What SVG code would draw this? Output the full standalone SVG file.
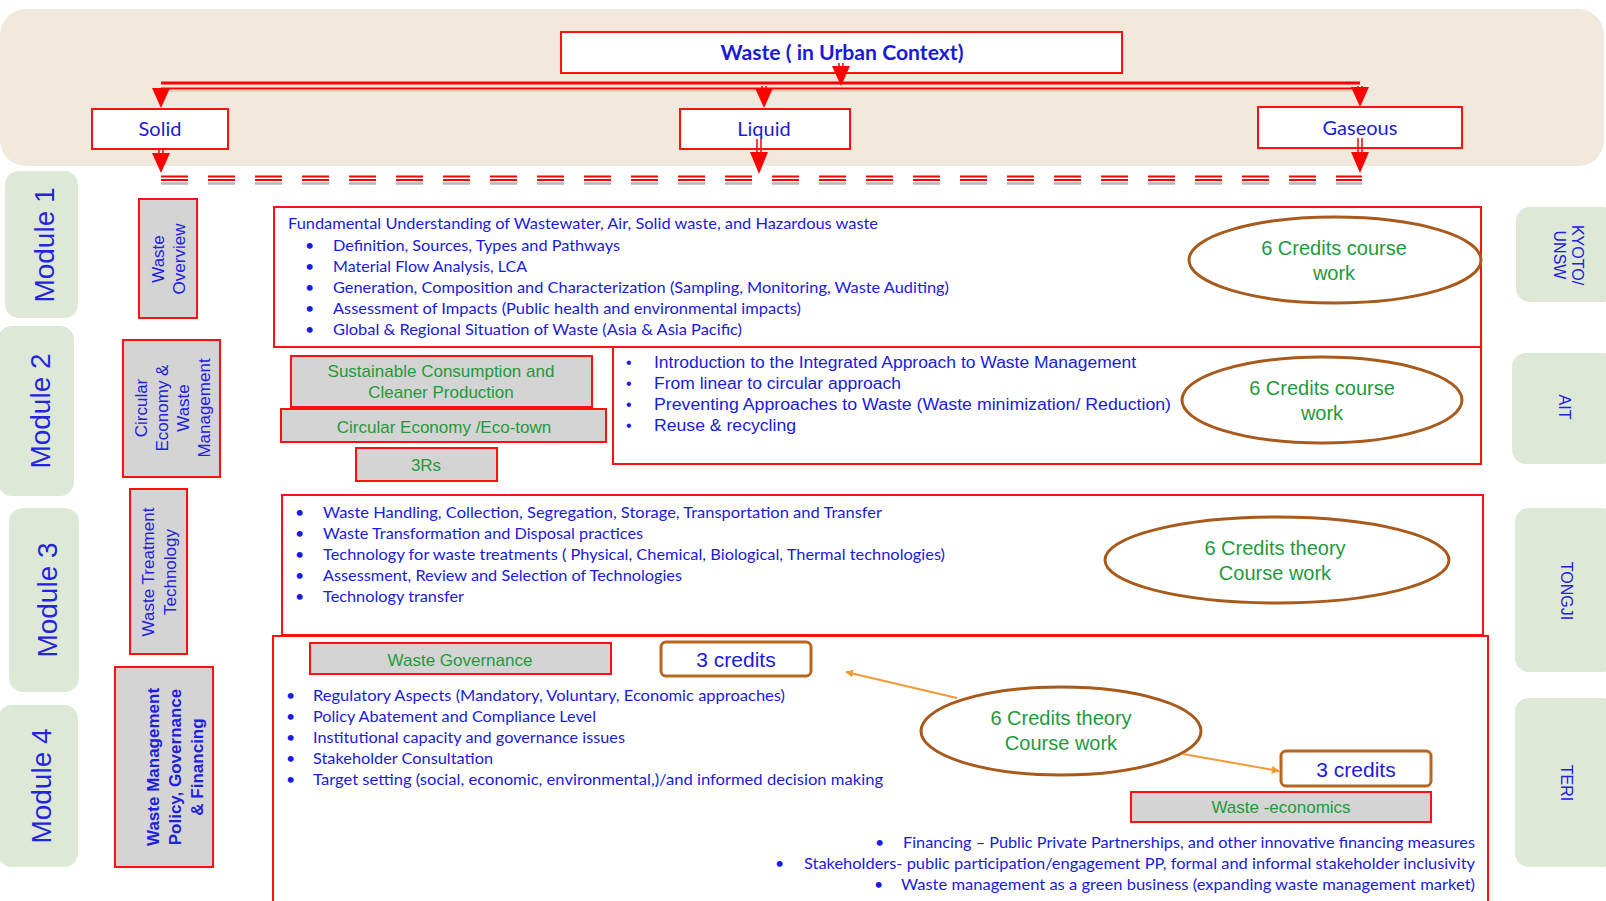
<svg xmlns="http://www.w3.org/2000/svg" width="1606" height="901" viewBox="0 0 1606 901">
<defs>
<style>
.band{fill:#f2e9dd}
.tab{fill:#dde9d6}
.rbox{fill:#ffffff;stroke:#ff1010;stroke-width:2}
.gbox{fill:#d4d4d4;stroke:#ff1010;stroke-width:2}
.ell{fill:#ffffff;stroke:#a85a1c;stroke-width:3}
.cbox{fill:#ffffff;stroke:#b8651e;stroke-width:3}
.red{stroke:#ff0000;fill:none}
.head{fill:#ff0000}
.cal{font-family:Lato,"Open Sans","Liberation Sans",sans-serif;fill:#1a1ae0;font-size:16px}
.ari{font-family:"Liberation Sans",Arial,sans-serif;fill:#1a1ae0}
.grn{font-family:"Liberation Sans",Arial,sans-serif;fill:#1e9a3c;text-anchor:middle}
.mod{font-family:"Liberation Sans",Arial,sans-serif;fill:#2424e0;font-size:28px;text-anchor:middle}
.lab{font-family:"Liberation Sans",Arial,sans-serif;fill:#2020e0;font-size:17px;text-anchor:middle}
.inst{font-family:"Liberation Sans",Arial,sans-serif;fill:#2020e0;font-size:16px;text-anchor:middle}
.top{font-family:Lato,"Open Sans","Liberation Sans",sans-serif;fill:#1a1ad8;font-size:20px;text-anchor:middle}
.oarr{stroke:#f29a35;stroke-width:2;fill:none}
</style>
<marker id="oh" viewBox="0 0 10 10" refX="9" refY="5" markerWidth="8" markerHeight="8" orient="auto" markerUnits="userSpaceOnUse">
<path d="M0,0 L10,5 L0,10 z" fill="#f29a35"/>
</marker>
</defs>

<!-- background band -->
<rect class="band" x="0" y="9" width="1604" height="157" rx="26"/>

<!-- side tabs -->
<g id="module1"><rect class="tab" x="5" y="171" width="73" height="147" rx="14"/><text class="mod" transform="translate(54,245) rotate(-90)">Module 1</text></g>
<g id="module2"><rect class="tab" x="-2" y="326" width="76" height="170" rx="14"/><text class="mod" transform="translate(50,411) rotate(-90)">Module 2</text></g>
<g id="module3"><rect class="tab" x="9" y="508" width="70" height="184" rx="14"/><text class="mod" transform="translate(57,600) rotate(-90)">Module 3</text></g>
<g id="module4"><rect class="tab" x="-2" y="705" width="80" height="162" rx="14"/><text class="mod" transform="translate(51,786) rotate(-90)">Module 4</text></g>

<g id="kyoto"><rect class="tab" x="1516" y="207" width="100" height="95" rx="14"/><text class="inst" transform="translate(1572,255) rotate(90)"><tspan x="0" y="0">KYOTO/</tspan><tspan x="0" dy="18">UNSW</tspan></text></g>
<g id="ait"><rect class="tab" x="1512" y="353" width="104" height="111" rx="14"/><text class="inst" transform="translate(1559,407) rotate(90)">AIT</text></g>
<g id="tongji"><rect class="tab" x="1515" y="508" width="101" height="164" rx="14"/><text class="inst" transform="translate(1561,591) rotate(90)">TONGJI</text></g>
<g id="teri"><rect class="tab" x="1515" y="698" width="101" height="169" rx="14"/><text class="inst" transform="translate(1561,783) rotate(90)">TERI</text></g>

<!-- top hierarchy -->
<g id="waste">
<rect class="rbox" x="561" y="32" width="561" height="41"/>
<text class="top" x="842" y="60" font-weight="bold" fill="#1010c8" textLength="243" lengthAdjust="spacingAndGlyphs">Waste ( in Urban Context)</text>
</g>
<g id="solid"><rect class="rbox" x="92" y="109" width="136" height="40"/><text class="top" x="160" y="136">Solid</text></g>
<g id="liquid"><rect class="rbox" x="680" y="109" width="170" height="40"/><text class="top" x="764" y="136">Liquid</text></g>
<g id="gaseous"><rect class="rbox" x="1258" y="107" width="204" height="41"/><text class="top" x="1360" y="135">Gaseous</text></g>

<!-- left labels -->
<g id="wasteOverview"><rect class="gbox" x="139" y="199" width="58" height="119"/>
<text class="lab" font-size="18" transform="translate(164,259) rotate(-90)"><tspan x="0" y="0">Waste</tspan><tspan x="0" dy="21">Overview</tspan></text></g>
<g id="circularLabel"><rect class="gbox" x="123" y="340" width="97" height="137"/>
<text class="lab" transform="translate(147,408) rotate(-90)"><tspan x="0" y="0">Circular</tspan><tspan x="0" dy="21">Economy &amp;</tspan><tspan x="0" dy="21">Waste</tspan><tspan x="0" dy="21">Management</tspan></text></g>
<g id="treatmentLabel"><rect class="gbox" x="130" y="489" width="57" height="165"/>
<text class="lab" transform="translate(154,572) rotate(-90)"><tspan x="0" y="0">Waste Treatment</tspan><tspan x="0" dy="22">Technology</tspan></text></g>
<g id="policyLabel"><rect class="gbox" x="115" y="667" width="98" height="200"/>
<text class="lab" font-weight="bold" transform="translate(159,767) rotate(-90)"><tspan x="0" y="0">Waste Management</tspan><tspan x="0" dy="22">Policy, Governance</tspan><tspan x="0" dy="22">&amp; Financing</tspan></text></g>

<!-- Module 1 content -->
<g id="m1box">
<rect class="rbox" x="274" y="207" width="1207" height="140"/>
<text class="cal" x="288" y="229" textLength="590" lengthAdjust="spacingAndGlyphs">Fundamental Understanding of Wastewater, Air, Solid waste, and Hazardous waste</text>
<g class="cal">
<text x="305" y="251">•</text><text x="333" y="251" textLength="287" lengthAdjust="spacingAndGlyphs">Definition, Sources, Types and Pathways</text>
<text x="305" y="272">•</text><text x="333" y="272" textLength="194" lengthAdjust="spacingAndGlyphs">Material Flow Analysis, LCA</text>
<text x="305" y="293">•</text><text x="333" y="293" textLength="616" lengthAdjust="spacingAndGlyphs">Generation, Composition and Characterization (Sampling, Monitoring, Waste Auditing)</text>
<text x="305" y="314">•</text><text x="333" y="314" textLength="468" lengthAdjust="spacingAndGlyphs">Assessment of Impacts (Public health and environmental impacts)</text>
<text x="305" y="335">•</text><text x="333" y="335" textLength="409" lengthAdjust="spacingAndGlyphs">Global &amp; Regional  Situation of Waste (Asia &amp; Asia Pacific)</text>
</g>
</g>
<g id="m1credits"><ellipse class="ell" cx="1335" cy="260" rx="146" ry="43"/>
<text class="grn" font-size="20"><tspan x="1334" y="255">6 Credits course</tspan><tspan x="1334" y="280">work</tspan></text></g>

<!-- Module 2 content -->
<g id="m2box">
<rect class="rbox" x="613" y="347" width="868" height="117"/>
<g class="ari" font-size="16">
<text x="626" y="368">•</text><text x="654" y="368" textLength="482" lengthAdjust="spacingAndGlyphs">Introduction to the Integrated Approach to Waste Management</text>
<text x="626" y="389">•</text><text x="654" y="389" textLength="247" lengthAdjust="spacingAndGlyphs">From linear to circular approach</text>
<text x="626" y="410">•</text><text x="654" y="410" textLength="517" lengthAdjust="spacingAndGlyphs">Preventing Approaches to Waste  (Waste minimization/ Reduction)</text>
<text x="626" y="431">•</text><text x="654" y="431" textLength="142" lengthAdjust="spacingAndGlyphs">Reuse &amp; recycling</text>
</g>
</g>
<g id="m2credits"><ellipse class="ell" cx="1322" cy="400" rx="140" ry="43"/>
<text class="grn" font-size="20"><tspan x="1322" y="395">6 Credits course</tspan><tspan x="1322" y="420">work</tspan></text></g>
<g id="scp"><rect class="gbox" x="291" y="356" width="301" height="51"/>
<text class="grn" font-size="17"><tspan x="441" y="377">Sustainable Consumption  and</tspan><tspan x="441" y="398">Cleaner Production</tspan></text></g>
<g id="circEco"><rect class="gbox" x="281" y="409" width="325" height="33"/>
<text class="grn" font-size="17" x="444" y="433">Circular Economy /Eco-town</text></g>
<g id="threeRs"><rect class="gbox" x="356" y="448" width="141" height="33"/>
<text class="grn" font-size="17" x="426" y="471">3Rs</text></g>

<!-- Module 3 content -->
<g id="m3box">
<rect class="rbox" x="282" y="495" width="1201" height="140"/>
<g class="cal">
<text x="295" y="518">•</text><text x="323" y="518" textLength="559" lengthAdjust="spacingAndGlyphs">Waste  Handling, Collection, Segregation, Storage, Transportation and Transfer</text>
<text x="295" y="539">•</text><text x="323" y="539" textLength="320" lengthAdjust="spacingAndGlyphs">Waste Transformation and Disposal practices</text>
<text x="295" y="560">•</text><text x="323" y="560" textLength="622" lengthAdjust="spacingAndGlyphs">Technology for waste treatments ( Physical, Chemical, Biological, Thermal technologies)</text>
<text x="295" y="581">•</text><text x="323" y="581" textLength="359" lengthAdjust="spacingAndGlyphs">Assessment, Review and Selection of Technologies</text>
<text x="295" y="602">•</text><text x="323" y="602" textLength="141" lengthAdjust="spacingAndGlyphs">Technology transfer</text>
</g>
</g>
<g id="m3credits"><ellipse class="ell" cx="1277" cy="560" rx="172" ry="43"/>
<text class="grn" font-size="20"><tspan x="1275" y="555">6 Credits theory</tspan><tspan x="1275" y="580">Course work</tspan></text></g>

<!-- Module 4 content -->
<g id="m4box">
<rect class="rbox" x="273" y="636" width="1215" height="280"/>
<g class="cal">
<text x="286" y="701">•</text><text x="313" y="701" textLength="472" lengthAdjust="spacingAndGlyphs">Regulatory Aspects (Mandatory, Voluntary, Economic approaches)</text>
<text x="286" y="722">•</text><text x="313" y="722" textLength="283" lengthAdjust="spacingAndGlyphs">Policy Abatement and Compliance Level</text>
<text x="286" y="743">•</text><text x="313" y="743" textLength="312" lengthAdjust="spacingAndGlyphs">Institutional capacity and governance issues</text>
<text x="286" y="764">•</text><text x="313" y="764" textLength="180" lengthAdjust="spacingAndGlyphs">Stakeholder Consultation</text>
<text x="286" y="785">•</text><text x="313" y="785" textLength="570" lengthAdjust="spacingAndGlyphs">Target setting (social, economic, environmental,)/and informed decision making</text>
<text x="875" y="848">•</text><text x="903" y="848" textLength="572" lengthAdjust="spacingAndGlyphs">Financing – Public Private Partnerships, and other innovative financing measures</text>
<text x="775" y="869">•</text><text x="804" y="869" textLength="671" lengthAdjust="spacingAndGlyphs">Stakeholders- public participation/engagement PP, formal and informal stakeholder inclusivity</text>
<text x="874" y="890">•</text><text x="901" y="890" textLength="574" lengthAdjust="spacingAndGlyphs">Waste management as a green business (expanding waste management market)</text>
</g>
</g>
<g id="governance"><rect class="gbox" x="310" y="643" width="301" height="31"/>
<text class="grn" font-size="17" x="460" y="666">Waste Governance</text></g>
<g id="credits3a"><rect class="cbox" x="661" y="642" width="150" height="34" rx="5"/>
<text class="ari" font-size="21" text-anchor="middle" x="736" y="667">3 credits</text></g>
<g id="m4credits"><ellipse class="ell" cx="1061" cy="731" rx="140" ry="44"/>
<text class="grn" font-size="20"><tspan x="1061" y="725">6 Credits theory</tspan><tspan x="1061" y="750">Course work</tspan></text></g>
<g id="credits3b"><rect class="cbox" x="1281" y="751" width="150" height="35" rx="5"/>
<text class="ari" font-size="21" text-anchor="middle" x="1356" y="777">3 credits</text></g>
<g id="economics"><rect class="gbox" x="1131" y="792" width="300" height="30"/>
<text class="grn" font-size="17" x="1281" y="813">Waste -economics</text></g>

<g id="connectors">
<line class="red" x1="161" y1="83" x2="1360" y2="83" stroke-width="3"/>
<line class="red" x1="161" y1="88.5" x2="1360" y2="88.5" stroke-width="2"/>
<line x1="163" y1="91" x2="1362" y2="91" stroke="#c8b8a8" stroke-width="1.5" opacity="0.6"/>
<line class="red" x1="839" y1="63" x2="839" y2="70" stroke-width="1.5"/>
<line class="red" x1="843" y1="63" x2="843" y2="70" stroke-width="1.5"/>
<path class="head" d="M832,66 L850,66 L841,86 z"/>
<path class="head" d="M152,88 L170,88 L161,108 z"/>
<line class="red" x1="762" y1="86" x2="762" y2="92" stroke-width="1.5"/>
<line class="red" x1="766" y1="86" x2="766" y2="92" stroke-width="1.5"/>
<path class="head" d="M755,88 L773,88 L764,108 z"/>
<line class="red" x1="1358" y1="86" x2="1358" y2="92" stroke-width="1.5"/>
<line class="red" x1="1362" y1="86" x2="1362" y2="92" stroke-width="1.5"/>
<path class="head" d="M1351,87 L1369,87 L1360,107 z"/>
<line class="red" x1="159" y1="149" x2="159" y2="156" stroke-width="1.5"/>
<line class="red" x1="163" y1="149" x2="163" y2="156" stroke-width="1.5"/>
<path class="head" d="M152,153 L170,153 L161,173 z"/>
<line class="red" x1="757" y1="139" x2="757" y2="155" stroke-width="1.5"/>
<line class="red" x1="761" y1="139" x2="761" y2="155" stroke-width="1.5"/>
<path class="head" d="M750,152 L768,152 L759,174 z"/>
<line class="red" x1="1358" y1="138" x2="1358" y2="155" stroke-width="1.5"/>
<line class="red" x1="1362" y1="138" x2="1362" y2="155" stroke-width="1.5"/>
<path class="head" d="M1351,152 L1369,152 L1360,173 z"/>
<line x1="161" y1="176.5" x2="1362" y2="176.5" stroke="#ff0000" stroke-width="2" stroke-dasharray="27 20"/>
<line x1="161" y1="180" x2="1362" y2="180" stroke="#ff0000" stroke-width="2" stroke-dasharray="27 20"/>
<line x1="161" y1="183.5" x2="1362" y2="183.5" stroke="#9a9a9a" stroke-width="2.5" stroke-dasharray="27 20" opacity="0.7"/>
<line class="oarr" x1="957" y1="698" x2="846" y2="672" marker-end="url(#oh)"/>
<line class="oarr" x1="1183" y1="754" x2="1279" y2="771" marker-end="url(#oh)"/>
</g>
</svg>
